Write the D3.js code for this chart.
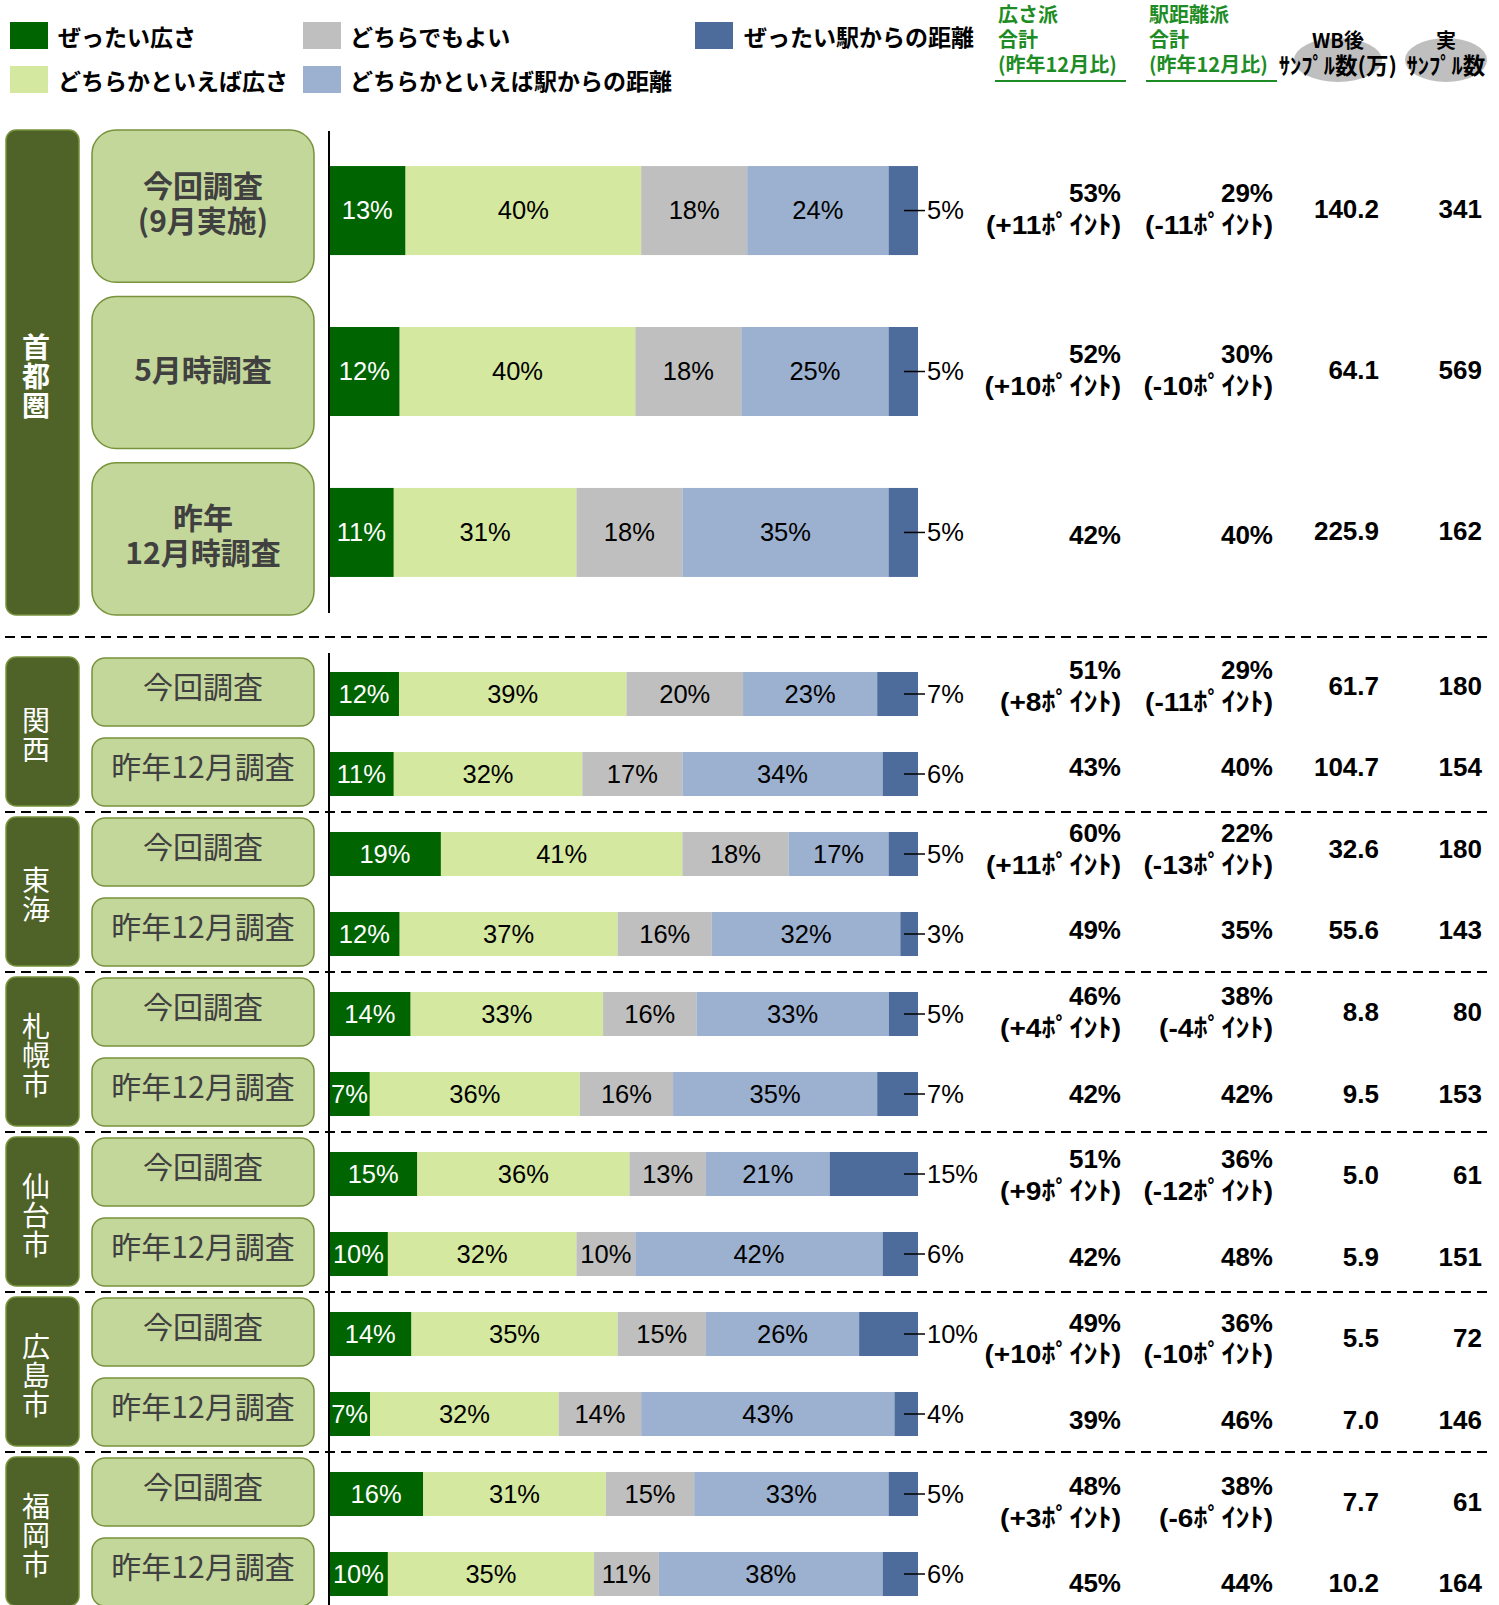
<!DOCTYPE html>
<html>
<head>
<meta charset="utf-8">
<script src="https://cdn.jsdelivr.net/npm/d3@7"></script>
<style>
  body { margin: 0; background: #fff; }
  svg { display: block; }
</style>
</head>
<body>
<div id="chart"></div>
<script>
// Categories and series
const regions = ["首都圏", "関西", "東海", "札幌市", "仙台市", "広島市", "福岡市"];
const seriesNames = ["ぜったい広さ", "どちらかといえば広さ", "どちらでもよい", "どちらかといえば駅からの距離", "ぜったい駅からの距離"];
const seriesColors = ["#006400", "#d5e8a0", "#bfbfbf", "#9cb0cf", "#4e6c9b"];

const rowRegion = ["首都圏", "首都圏", "首都圏", "関西", "関西", "東海", "東海", "札幌市", "札幌市",
                   "仙台市", "仙台市", "広島市", "広島市", "福岡市", "福岡市"];
const rowLabels = ["今回調査\n(9月実施)", "5月時調査", "昨年\n12月時調査",
                   "今回調査", "昨年12月調査", "今回調査", "昨年12月調査", "今回調査", "昨年12月調査",
                   "今回調査", "昨年12月調査", "今回調査", "昨年12月調査", "今回調査", "昨年12月調査"];

// Series values (%)
const zettaiHirosa  = [13, 12, 11, 12, 11, 19, 12, 14, 7, 15, 10, 14, 7, 16, 10];
const dochiraHirosa = [40, 40, 31, 39, 32, 41, 37, 33, 36, 36, 32, 35, 32, 31, 35];
const dochiraDemo   = [18, 18, 18, 20, 17, 18, 16, 16, 16, 13, 10, 15, 14, 15, 11];
const dochiraEki    = [24, 25, 35, 23, 34, 17, 32, 33, 35, 21, 42, 26, 43, 33, 38];
const zettaiEki     = [5, 5, 5, 7, 6, 5, 3, 5, 7, 15, 6, 10, 4, 5, 6];

// Right hand columns
const hirosaTotal = [53, 52, 42, 51, 43, 60, 49, 46, 42, 51, 42, 49, 39, 48, 45];
const hirosaDiff  = [11, 10, null, 8, null, 11, null, 4, null, 9, null, 10, null, 3, null];
const ekiTotal    = [29, 30, 40, 29, 40, 22, 35, 38, 42, 36, 48, 36, 46, 38, 44];
const ekiDiff     = [-11, -10, null, -11, null, -13, null, -4, null, -12, null, -10, null, -6, null];
const wbSample    = ["140.2", "64.1", "225.9", "61.7", "104.7", "32.6", "55.6", "8.8", "9.5",
                     "5.0", "5.9", "5.5", "7.0", "7.7", "10.2"];
const rawSample   = [341, 569, 162, 180, 154, 180, 143, 80, 153, 61, 151, 72, 146, 61, 164];

const W = 1499, H = 1605;
const jp = "'Noto Sans CJK JP', sans-serif";
const latin = "'Liberation Sans', Arial, 'Noto Sans CJK JP', sans-serif";

const svg = d3.select("#chart").append("svg")
  .attr("width", W).attr("height", H);

// Build rows
const series = [zettaiHirosa, dochiraHirosa, dochiraDemo, dochiraEki, zettaiEki];
const rows = rowRegion.map((r, i) => {
  const vals = series.map(s => s[i]);
  const total = d3.sum(vals);
  let acc = 0;
  const segs = vals.map((v, k) => {
    const s = { k, v, x0: acc / total, x1: (acc + v) / total };
    acc += v;
    return s;
  });
  return { i, region: r, label: rowLabels[i], segs };
});

// Scales
const x = d3.scaleLinear().domain([0, 1]).range([329, 918]);
const bigRows = rows.filter(d => d.region === regions[0]).map(d => d.i);
const yBigBar = d3.scaleBand().domain(bigRows).range([130, 613]).paddingInner(0.447).paddingOuter(0.224);
const yBigBox = d3.scaleBand().domain(bigRows).range([130, 615]).paddingInner(0.085);
const ySec = d3.scaleBand().domain(regions.slice(1)).range([652, 652 + 160 * 6]);
const ySmallBar = d3.scaleBand().domain([0, 1]).range([5, 159]).paddingInner(0.45).paddingOuter(0.1875);
const ySmallBox = d3.scaleBand().domain([0, 1]).range([6, 154]).paddingInner(0.15);
// the right hand text blocks sit on a slightly wider pitch than the bars
const yTextSec = d3.scaleBand().domain(regions.slice(1)).range([652, 652 + 163.2 * 6]);

rows.forEach(d => {
  if (d.region === regions[0]) {
    d.big = true;
    d.y = yBigBar(d.i); d.h = yBigBar.bandwidth();
    d.boxY = yBigBox(d.i); d.boxH = yBigBox.bandwidth();
    d.cy = d.y + d.h / 2;
    d.t1 = d.cy - 18; d.t2 = d.cy + 14.5; d.tWB = d.cy - 2; d.tOne = d.cy + 2;
  } else {
    d.big = false;
    const j = rows.filter(r => r.region === d.region).indexOf(d);
    const top = ySec(d.region);
    d.y = top + ySmallBar(j); d.h = ySmallBar.bandwidth();
    d.boxY = top + ySmallBox(j); d.boxH = ySmallBox.bandwidth();
    d.cy = d.y + d.h / 2;
    const tt = yTextSec(d.region);
    d.t1 = tt + 17.7; d.t2 = tt + 49.4;
    d.tWB = j === 0 ? tt + 33.5 : tt + 115;
    d.tOne = tt + 115;
  }
});

// multi line text as one <text> with tspans
function multiText(g, x0, yFirst, step, lines) {
  const t = g.append("text").attr("x", x0).attr("y", yFirst);
  lines.forEach((s, n) => {
    t.append("tspan").attr("x", x0).attr("y", yFirst + n * step)
      .attr("dominant-baseline", "central").text(s);
  });
  return t;
}

// Legend
const legend = svg.append("g");
const legendPos = [[10, 58, 22], [10, 58, 66], [303, 350, 22], [303, 350, 66], [695, 744, 22]];
seriesNames.forEach((name, k) => {
  const p = legendPos[k];
  legend.append("rect").attr("x", p[0]).attr("y", p[2]).attr("width", 38).attr("height", 27)
    .attr("fill", seriesColors[k]);
  legend.append("text").attr("x", p[1]).attr("y", p[2] + 14)
    .attr("dominant-baseline", "central")
    .style("font-family", jp).style("font-weight", 700).style("font-size", "23px")
    .attr("fill", "#000").text(name);
});

// Column headers
const green = "#1e8c24";
const heads = [{ x: 998, lines: ["広さ派", "合計", "(昨年12月比)"], l0: 995, l1: 1126 },
               { x: 1149, lines: ["駅距離派", "合計", "(昨年12月比)"], l0: 1146, l1: 1277 }];
heads.forEach(h => {
  multiText(svg, h.x, 13, 25, h.lines)
    .style("font-family", jp).style("font-weight", 700).style("font-size", "20px")
    .attr("fill", green);
  svg.append("line").attr("x1", h.l0).attr("x2", h.l1).attr("y1", 81).attr("y2", 81)
    .attr("stroke", green).attr("stroke-width", 2);
});

const bubbles = [{ cx: 1338, rx: 44, lines: ["WB後", "ｻﾝﾌﾟﾙ数(万)"] },
                 { cx: 1446, rx: 41, lines: ["実", "ｻﾝﾌﾟﾙ数"] }];
bubbles.forEach(b => {
  svg.append("ellipse").attr("cx", b.cx).attr("cy", 60).attr("rx", b.rx).attr("ry", 22)
    .attr("fill", "#bfbfbf");
  const t = multiText(svg, b.cx, 39, 24.5, b.lines)
    .attr("text-anchor", "middle")
    .style("font-family", jp).style("font-weight", 700).style("font-size", "20px")
    .attr("fill", "#000");
  t.selectAll("tspan").filter((_, n) => n === 1).style("font-size", "22.5px");
});

// Dashed separators
const dashY = [637].concat(regions.slice(2).map(r => ySec(r)));
svg.selectAll(".sep").data(dashY).enter().append("line")
  .attr("x1", 5).attr("x2", 1490).attr("y1", d => d).attr("y2", d => d)
  .attr("stroke", "#000").attr("stroke-width", 2).attr("stroke-dasharray", "10,6");

// Region boxes
const regionBox = regions.map(r => r === regions[0]
  ? { r, y0: 130, y1: 615, bold: true }
  : { r, y0: ySec(r) + 5, y1: ySec(r) + 154, bold: false });
const rg = svg.selectAll(".region").data(regionBox).enter().append("g");
rg.append("rect").attr("x", 6).attr("width", 73)
  .attr("y", d => d.y0).attr("height", d => d.y1 - d.y0)
  .attr("rx", 10).attr("fill", "#4f6228").attr("stroke", "#77933c").attr("stroke-width", 1.5);
rg.append("text").attr("x", 36).attr("y", d => (d.y0 + d.y1) / 2 + 4)
  .attr("text-anchor", "middle")
  .style("writing-mode", "vertical-rl").style("letter-spacing", "1px")
  .style("font-family", jp).style("font-weight", d => d.bold ? 700 : 400).style("font-size", "28px")
  .attr("fill", "#fff").text(d => d.r);

// Row label boxes
const lb = svg.selectAll(".lbl").data(rows).enter().append("g");
lb.append("rect").attr("x", 92).attr("width", 222)
  .attr("y", d => d.boxY).attr("height", d => d.boxH)
  .attr("rx", d => d.big ? 24 : 13)
  .attr("fill", "#c4d79b").attr("stroke", "#77933c").attr("stroke-width", 1.5);
lb.each(function(d) {
  const lines = d.label.split("\n");
  const mid = d.boxY + d.boxH / 2 - (d.big ? 5 : 7);
  multiText(d3.select(this), 203, mid - (lines.length - 1) / 2 * 35, 35, lines)
    .attr("text-anchor", "middle")
    .style("font-family", jp).style("font-weight", d.big ? 700 : 400).style("font-size", "30px")
    .attr("fill", "#404040");
});

// Bars
const bars = svg.selectAll(".row").data(rows).enter().append("g");
bars.selectAll("rect").data(d => d.segs.map(s => Object.assign({ y: d.y, h: d.h }, s)))
  .enter().append("rect")
  .attr("x", s => x(s.x0)).attr("width", s => x(s.x1) - x(s.x0))
  .attr("y", s => s.y).attr("height", s => s.h)
  .attr("fill", s => seriesColors[s.k]);

// Vertical axis lines
[[131, 613], [653, 1605]].forEach(s => {
  svg.append("line").attr("x1", x(0)).attr("x2", x(0)).attr("y1", s[0]).attr("y2", s[1])
    .attr("stroke", "#000").attr("stroke-width", 2);
});

// Segment labels
bars.each(function(d) {
  const g = d3.select(this);
  d.segs.forEach(s => {
    if (s.k < 4) {
      g.append("text").attr("x", (x(s.x0) + x(s.x1)) / 2).attr("y", d.cy).attr("dy", "0.35em")
        .attr("text-anchor", "middle")
        .style("font-family", latin).style("font-size", "25.5px")
        .attr("fill", s.k === 0 ? "#fff" : "#000").text(s.v + "%");
    } else {
      g.append("line").attr("x1", x(1) - 14).attr("x2", x(1) + 7)
        .attr("y1", d.cy).attr("y2", d.cy).attr("stroke", "#000").attr("stroke-width", 1.5);
      g.append("text").attr("x", x(1) + 9).attr("y", d.cy).attr("dy", "0.35em")
        .style("font-family", latin).style("font-size", "25.5px")
        .attr("fill", "#000").text(s.v + "%");
    }
  });
});

// Right hand numbers
const numStyle = sel => sel.attr("text-anchor", "end").attr("dy", "0.35em")
  .style("font-family", latin).style("font-weight", 700).style("font-size", "26px").attr("fill", "#000");
const fmtDiff = v => "(" + (v > 0 ? "+" : "") + v + "ﾎﾟｲﾝﾄ)";
rows.forEach(d => {
  const cols = [[1121, hirosaTotal[d.i], hirosaDiff[d.i]], [1273, ekiTotal[d.i], ekiDiff[d.i]]];
  cols.forEach(c => {
    if (c[2] === null) {
      svg.append("text").attr("x", c[0]).attr("y", d.tOne).call(numStyle).text(c[1] + "%");
    } else {
      svg.append("text").attr("x", c[0]).attr("y", d.t1).call(numStyle).text(c[1] + "%");
      const t = svg.append("text").attr("x", c[0]).attr("y", d.t2).call(numStyle).text(fmtDiff(c[2]));
      const len = t.node().getComputedTextLength();
      t.attr("textLength", len * 1.08).attr("lengthAdjust", "spacingAndGlyphs");
    }
  });
  svg.append("text").attr("x", 1379).attr("y", d.tWB).call(numStyle).text(wbSample[d.i]);
  svg.append("text").attr("x", 1482).attr("y", d.tWB).call(numStyle).text(rawSample[d.i]);
});
</script>
</body>
</html>
